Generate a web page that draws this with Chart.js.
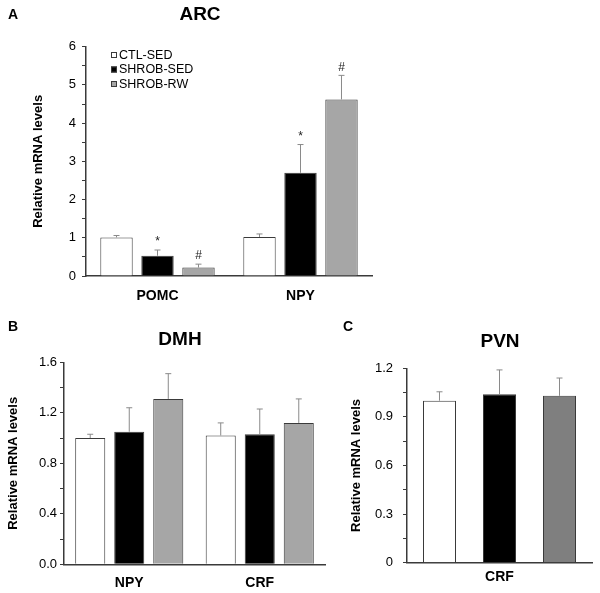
<!DOCTYPE html>
<html>
<head>
<meta charset="utf-8">
<title>ARC / DMH / PVN</title>
<script src="https://cdn.jsdelivr.net/npm/chart.js"></script>
<style>
    html, body { margin: 0; padding: 0; background: #fff; overflow: hidden; }
    canvas { position: absolute; }
</style>
</head>
<body>
<canvas id="chartA" width="400" height="310" style="left:0;top:0"></canvas>
<canvas id="chartB" width="330" height="283" style="left:0;top:310px"></canvas>
<canvas id="chartC" width="270" height="283" style="left:330px;top:310px"></canvas>
<script>
// groups
const groupNames = ['CTL-SED', 'SHROB-SED', 'SHROB-RW'];

// A - ARC
const genesA = ['POMC', 'NPY'];
const ctlA = [1.01, 1.02];
const ctlErrA = [0.05, 0.08];
const shrobA = [0.53, 2.70];
const shrobErrA = [0.15, 0.74];
const rwA = [0.22, 4.62];
const rwErrA = [0.09, 0.63];
const shrobSigA = ['*', '*'];
const rwSigA = ['#', '#'];
const yTicksA = ['0', '1', '2', '3', '4', '5', '6'];

// B - DMH
const genesB = ['NPY', 'CRF'];
const ctlB = [1.00, 1.02];
const ctlErrB = [0.03, 0.10];
const shrobB = [1.05, 1.03];
const shrobErrB = [0.19, 0.20];
const rwB = [1.31, 1.12];
const rwErrB = [0.20, 0.19];
const yTicksB = ['0.0', '0.4', '0.8', '1.2', '1.6'];

// C - PVN
const genesC = ['CRF'];
const ctlC = [1.00];
const ctlErrC = [0.055];
const shrobC = [1.04];
const shrobErrC = [0.15];
const rwC = [1.03];
const rwErrC = [0.11];
const yTicksC = ['0', '0.3', '0.6', '0.9', '1.2'];

Chart.defaults.font.family = '"Liberation Sans", Arial, sans-serif';
Chart.defaults.color = '#000';

const edge = '#3a3a3a';

// error bars (upper only) + significance marks
const errorBars = {
    id: 'errorBars',
    afterDatasetsDraw(chart) {
        const ctx = chart.ctx;
        const y = chart.scales.y;
        chart.data.datasets.forEach((ds, di) => {
            const meta = chart.getDatasetMeta(di);
            meta.data.forEach((bar, i) => {
                const top = y.getPixelForValue(ds.data[i] + ds.errors[i]);
                ctx.save();
                ctx.strokeStyle = '#8a8a8a';
                ctx.lineWidth = 1;
                ctx.beginPath();
                ctx.moveTo(bar.x, bar.y);
                ctx.lineTo(bar.x, top);
                ctx.moveTo(bar.x - 3, top);
                ctx.lineTo(bar.x + 3, top);
                ctx.stroke();
                if (ds.sig && ds.sig[i]) {
                    ctx.fillStyle = '#222';
                    ctx.font = '12px "Liberation Sans", Arial, sans-serif';
                    ctx.textAlign = 'center';
                    ctx.textBaseline = 'bottom';
                    ctx.fillText(ds.sig[i], bar.x, top - 2);
                }
                ctx.restore();
            });
        });
    }
};

// panel letter and title
const panelText = {
    id: 'panelText',
    afterDraw(chart, args, o) {
        const ctx = chart.ctx;
        ctx.save();
        ctx.fillStyle = '#000';
        ctx.textAlign = 'center';
        ctx.textBaseline = 'middle';
        ctx.font = 'bold 14px "Liberation Sans", Arial, sans-serif';
        ctx.fillText(o.letter, o.letterX, o.letterY);
        ctx.font = 'bold 19px "Liberation Sans", Arial, sans-serif';
        ctx.fillText(o.title, o.titleX, o.titleY);
        ctx.restore();
    }
};

// small square legend inside panel A
const boxLegend = {
    id: 'boxLegend',
    afterDraw(chart, args, o) {
        if (!o.show) return;
        const ctx = chart.ctx;
        ctx.save();
        ctx.font = '12.5px "Liberation Sans", Arial, sans-serif';
        ctx.textBaseline = 'middle';
        ctx.textAlign = 'left';
        chart.data.datasets.forEach((ds, i) => {
            const cy = o.y + i * o.step;
            ctx.fillStyle = ds.backgroundColor;
            ctx.fillRect(o.x, cy - 3, 6, 6);
            ctx.strokeStyle = edge;
            ctx.lineWidth = 1;
            ctx.strokeRect(o.x + 0.5, cy - 2.5, 5, 5);
            ctx.fillStyle = '#000';
            ctx.fillText(ds.label, o.x + 8, cy + 0.5);
        });
        ctx.restore();
    }
};

function makeChart(id, p) {
    const mk = (label, data, errors, color, sig) => ({
        label: label, data: data, errors: errors, sig: sig,
        backgroundColor: color, borderColor: edge, borderWidth: 1,
        barPercentage: p.barPct, categoryPercentage: p.catPct
    });
    return new Chart(document.getElementById(id), {
        type: 'bar',
        data: {
            labels: p.labels,
            datasets: [
                mk(groupNames[0], p.ctl, p.ctlErr, '#ffffff', null),
                mk(groupNames[1], p.shrob, p.shrobErr, '#000000', p.shrobSig),
                mk(groupNames[2], p.rw, p.rwErr, p.rwColor, p.rwSig)
            ]
        },
        options: {
            responsive: false,
            animation: false,
            layout: { padding: { top: p.padTop, right: p.padRight, left: 0, bottom: 0 } },
            plugins: {
                legend: { display: false },
                tooltip: { enabled: false },
                panelText: p.text,
                boxLegend: p.legend || { show: false }
            },
            scales: {
                x: {
                    grid: { display: false, tickLength: 0 },
                    border: { color: edge, width: 1.5 },
                    ticks: { padding: p.xPad, font: { size: 14, weight: 'bold' } },
                    afterFit: s => { s.height = p.xHeight; }
                },
                y: {
                    min: 0, max: p.max,
                    ticks: {
                        stepSize: p.step,
                        padding: p.yPad,
                        font: { size: 13 },
                        callback: (v, i) => (i % 2 ? '' : p.yTicks[i / 2])
                    },
                    grid: { drawOnChartArea: false, tickLength: 4, color: edge },
                    border: { color: edge, width: 1.5 },
                    title: {
                        display: true, text: 'Relative mRNA levels',
                        font: { size: 13, weight: 'bold' },
                        padding: { top: p.titlePad, bottom: 0 }
                    },
                    afterFit: s => { s.width = p.yWidth; }
                }
            }
        },
        plugins: [errorBars, panelText, boxLegend]
    });
}

makeChart('chartA', {
    labels: genesA, ctl: ctlA, ctlErr: ctlErrA, shrob: shrobA, shrobErr: shrobErrA,
    rw: rwA, rwErr: rwErrA, shrobSig: shrobSigA, rwSig: rwSigA, rwColor: '#a6a6a6',
    max: 6, step: 0.5, yTicks: yTicksA,
    barPct: 0.79, catPct: 0.86,
    padTop: 46.7, padRight: 28, xHeight: 34, yWidth: 86,
    xPad: 11.5, yPad: 6, titlePad: 30.5,
    text: { letter: 'A', letterX: 13, letterY: 15, title: 'ARC', titleX: 200, titleY: 15 },
    legend: { show: true, x: 111, y: 55, step: 14.5 }
});

makeChart('chartB', {
    labels: genesB, ctl: ctlB, ctlErr: ctlErrB, shrob: shrobB, shrobErr: shrobErrB,
    rw: rwB, rwErr: rwErrB, shrobSig: null, rwSig: null, rwColor: '#a6a6a6',
    max: 1.6, step: 0.2, yTicks: yTicksB,
    barPct: 0.77, catPct: 0.897,
    padTop: 52.3, padRight: 5, xHeight: 28.7, yWidth: 64,
    xPad: 10, yPad: 3, titlePad: 5.2,
    text: { letter: 'B', letterX: 13, letterY: 17, title: 'DMH', titleX: 180, titleY: 30 }
});

makeChart('chartC', {
    labels: genesC, ctl: ctlC, ctlErr: ctlErrC, shrob: shrobC, shrobErr: shrobErrC,
    rw: rwC, rwErr: rwErrC, shrobSig: null, rwSig: null, rwColor: '#7f7f7f',
    max: 1.2, step: 0.15, yTicks: yTicksC,
    barPct: 0.55, catPct: 0.973,
    padTop: 58.3, padRight: 8, xHeight: 30.3, yWidth: 77,
    xPad: 6.5, yPad: 10, titlePad: 18.9,
    text: { letter: 'C', letterX: 18, letterY: 17, title: 'PVN', titleX: 170, titleY: 32 }
});
</script>
</body>
</html>
